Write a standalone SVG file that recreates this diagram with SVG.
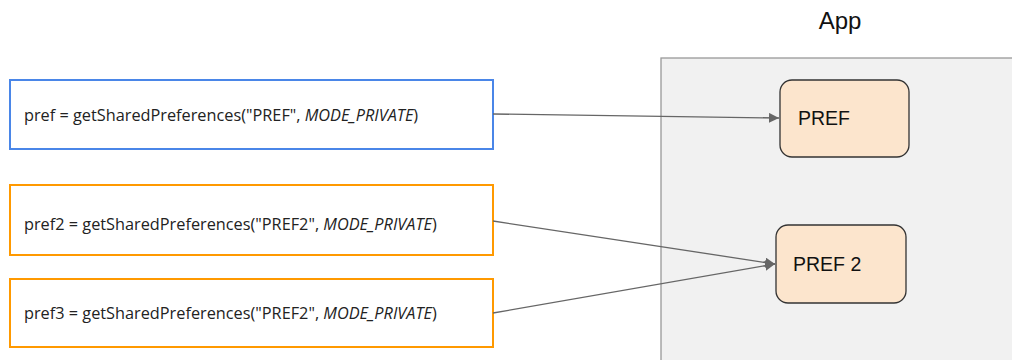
<svg xmlns="http://www.w3.org/2000/svg" width="1012" height="360" viewBox="0 0 1012 360">
<style>
.code{font-family:"Open Sans",sans-serif;font-size:16.3px;fill:#222}
.lbl{font-family:"Liberation Sans",Arial,sans-serif;font-size:19.5px;fill:#111}
.store{fill:#fce5cd;stroke:#333;stroke-width:1.3}
.conn{stroke:#666;stroke-width:1.3;fill:none;marker-end:url(#ah)}
</style>
<defs>
<marker id="ah" viewBox="0 0 10 10" refX="10" refY="5" markerWidth="10" markerHeight="10" markerUnits="userSpaceOnUse" orient="auto">
<path d="M0,0 L10,5 L0,10 z" fill="#666"/>
</marker>
</defs>
<rect width="1012" height="360" fill="#fff"/>
<g id="app">
<rect x="661" y="58" width="360" height="310" fill="#f1f1f1" stroke="#999" stroke-width="1.3"/>
<text x="840" y="29" text-anchor="middle" font-family="Liberation Sans,Arial,sans-serif" font-size="24" fill="#111">App</text>
</g>
<g id="call1">
<rect x="10" y="80" width="483" height="69" fill="#fff" stroke="#4a86e8" stroke-width="2"/>
<text x="24" y="121" class="code">pref = getSharedPreferences("PREF", <tspan font-style="italic">MODE_PRIVATE</tspan>)</text>
</g>
<g id="call2">
<rect x="10" y="185" width="483" height="70" fill="#fff" stroke="#ff9900" stroke-width="2"/>
<text x="24" y="230" class="code">pref2 = getSharedPreferences("PREF2", <tspan font-style="italic">MODE_PRIVATE</tspan>)</text>
</g>
<g id="call3">
<rect x="10" y="279" width="483" height="68" fill="#fff" stroke="#ff9900" stroke-width="2"/>
<text x="24" y="319" class="code">pref3 = getSharedPreferences("PREF2", <tspan font-style="italic">MODE_PRIVATE</tspan>)</text>
</g>
<g id="pref">
<rect x="780" y="80" width="129" height="77" rx="12" class="store"/>
<text x="798" y="125" class="lbl">PREF</text>
</g>
<g id="pref2">
<rect x="776" y="225" width="130" height="78" rx="12" class="store"/>
<text x="793" y="271" class="lbl">PREF 2</text>
</g>
<g id="connectors">
<line x1="493" y1="114" x2="779" y2="118" class="conn"/>
<line x1="493" y1="221" x2="775" y2="264" class="conn"/>
<line x1="493" y1="313" x2="775" y2="264" class="conn"/>
</g>
</svg>
